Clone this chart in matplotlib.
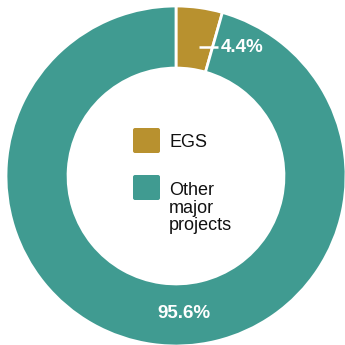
import matplotlib
matplotlib.use("Agg")
import matplotlib.pyplot as plt
from matplotlib.patches import FancyBboxPatch

# data
categories = ["EGS", "Other\nmajor\nprojects"]
shares = [4.4, 95.6]
colors = ["#B8912F", "#409B91"]

plt.rcParams['font.family'] = ['Liberation Sans', 'DejaVu Sans']

W = 345
cx, cy, R = 176, 176, 170


def px(x, y):
    # pixel position -> data coordinates (radius 1)
    return (x - cx) / R, (cy - y) / R


fig = plt.figure(figsize=(W / 100, W / 100), dpi=100)
ax = fig.add_axes([0, 0, 1, 1])

wedges, _ = ax.pie(shares, colors=colors, startangle=90, counterclock=False,
                   radius=1, wedgeprops=dict(width=0.365, edgecolor='white', linewidth=2))

ax.set_xlim(-cx / R, (W - cx) / R)
ax.set_ylim(-(W - cy) / R, cy / R)
ax.set_aspect('equal')
ax.axis('off')

# 4.4% label with leader
x0, y0 = px(199, 47)
x1, y1 = px(218, 47)
ax.plot([x0, x1], [y0, y1], color='white', lw=1.8, solid_capstyle='butt')
tx, ty = px(221, 47)
ax.text(tx, ty, f"{shares[0]}%", color='white', fontsize=13.5, fontweight='bold',
        ha='left', va='center')

tx, ty = px(184, 314)
ax.text(tx, ty, f"{shares[1]}%", color='white', fontsize=13.5, fontweight='bold',
        ha='center', va='center')

# legend in the hole
box_tops = [128, 175]
text_tops = [134, 182]
for cat, col, bt, tt in zip(categories, colors, box_tops, text_tops):
    bx, by = px(133, bt + 25)
    ax.add_patch(FancyBboxPatch((bx + 0.012, by + 0.012), 27 / R - 0.024, 25 / R - 0.024,
                                boxstyle="round,pad=0.012", facecolor=col, edgecolor='none'))
    lx, ly = px(169, tt)
    ax.text(lx, ly, cat, fontsize=13, color='#111111', ha='left', va='top', linespacing=1.05)

fig.savefig("out.png", dpi=100)
